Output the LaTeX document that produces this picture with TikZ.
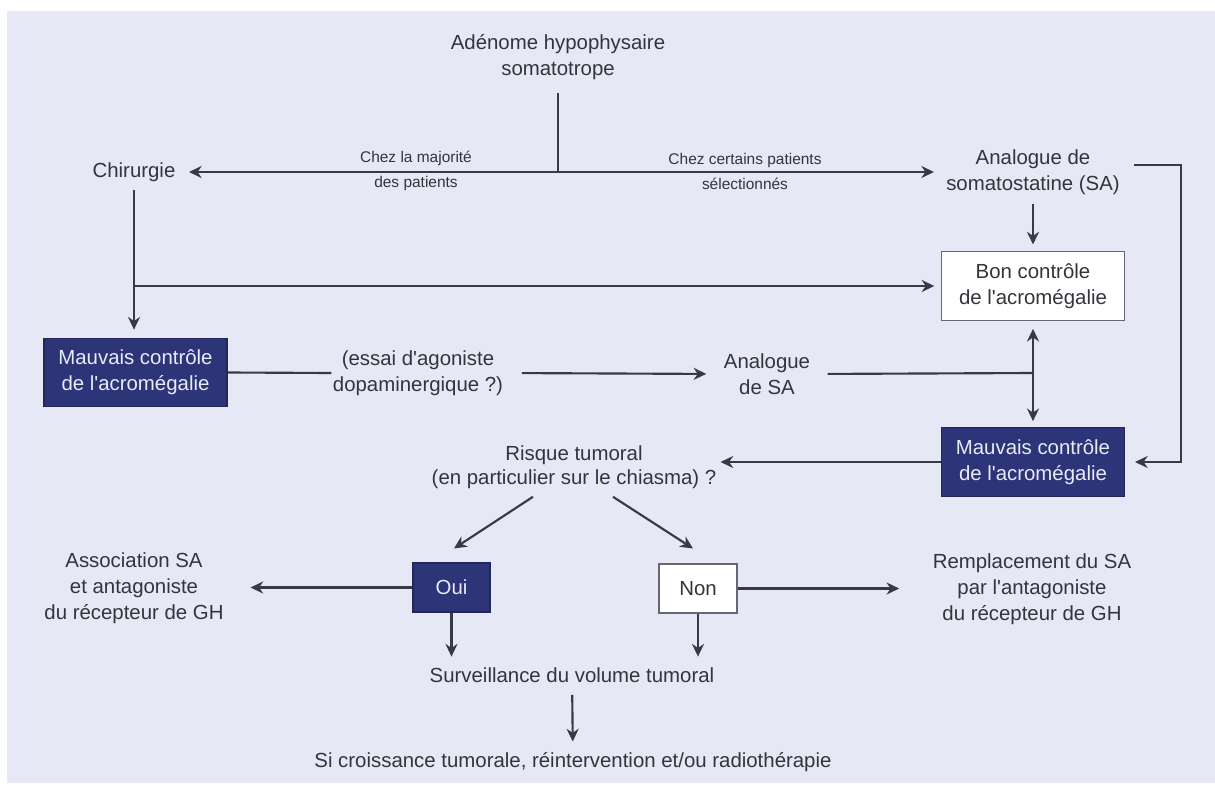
\documentclass[tikz,border=0pt]{standalone}
\usepackage{fontspec}
\setmainfont{Liberation Sans}
\usetikzlibrary{arrows.meta,calc}
\definecolor{panel}{RGB}{230,232,245}
\definecolor{navy}{RGB}{46,52,120}
\definecolor{ink}{RGB}{52,52,60}
\definecolor{lineclr}{RGB}{55,57,70}
\definecolor{boxtext}{RGB}{232,235,248}
\newcommand{\apos}{\textquotesingle}
\tikzset{
  txt/.style={align=center, inner sep=0pt, text=ink},
  smalltxt/.style={txt, font=\fontsize{11.6}{18.75}\selectfont},
  navybox/.style={draw=navy!75!black, fill=navy, text=boxtext, align=center, inner sep=0pt,
    minimum width=137.25pt, minimum height=51.5pt, line width=0.8pt},
  whitebox/.style={draw=ink!75, fill=white, text=ink, align=center, inner sep=0pt,
    minimum width=137.25pt, minimum height=51.5pt, line width=0.8pt},
  ln/.style={draw=lineclr, line width=1.6pt},
  arr/.style={ln, -{Stealth[length=9.5pt,width=9pt]}},
}
\begin{document}
\begin{tikzpicture}[x=0.75pt, y=-0.75pt, font=\fontsize{15.3}{19.5}\selectfont]
\useasboundingbox (0,0) rectangle (1215,786);
\fill[white] (0,0) rectangle (1215,786);
\fill[panel] (7,11) rectangle (1215,783);

% nodes
\node[txt] (adenome) at (558,57) {Adénome hypophysaire\\somatotrope};
\node[txt] (chir) at (134,172) {Chirurgie};
\node[txt] (asa) at (1033,172) {Analogue de\\somatostatine (SA)};
\node[smalltxt] (maj) at (416,171) {Chez la majorité\\des patients};
\node[smalltxt] (cert) at (745,171) {Chez certains patients\\sélectionnés};
\node[whitebox] (bon) at (1033,286) {Bon contrôle\\de l\apos acromégalie};
\node[navybox] (mauvL) at (135.5,372.5) {Mauvais contrôle\\de l\apos acromégalie};
\node[txt] (essai) at (418,373) {(essai d\apos agoniste\\dopaminergique ?)};
\node[txt] (ansa) at (767,374) {Analogue\\de SA};
\node[navybox] (mauvR) at (1033,462) {Mauvais contrôle\\de l\apos acromégalie};
\node[txt, font=\fontsize{15.3}{18}\selectfont] (risque) at (574,467) {Risque tumoral\\(en particulier sur le chiasma) ?};
\node[navybox, minimum width=57.75pt, minimum height=36.75pt] (oui) at (451.5,587.5) {Oui};
\node[whitebox, minimum width=58.5pt, minimum height=36.75pt] (non) at (698,588.5) {Non};
\node[txt] (assoc) at (134,588) {Association SA\\et antagoniste\\du récepteur de GH};
\node[txt] (rempl) at (1032,589) {Remplacement du SA\\par l\apos antagoniste\\du récepteur de GH};
\node[txt] (surv) at (572,675) {Surveillance du volume tumoral};
\node[txt] (si) at (573,762) {Si croissance tumorale, réintervention et/ou radiothérapie};

% junctions
\coordinate (J1) at (558,172);
\coordinate (R1) at (1181,165);
\coordinate (J2) at (134,286);
\coordinate (J3) at (1033,373);

% connectors
\draw[ln, shorten <=10pt] (adenome) -- (J1);
\draw[arr, shorten >=10pt] (J1) -- (chir.east);
\draw[arr, shorten >=9pt] (J1) -- (asa.west);
\draw[arr] ($(asa.east |- R1)+(14,0)$) -- (R1) -- (R1 |- mauvR.east) -- ($(mauvR.east)+(10,0)$);
\draw[arr, shorten <=7pt, shorten >=5pt] (asa) -- (bon);
\draw[arr, shorten <=6pt, shorten >=6pt] (chir) -- (chir |- mauvL.north);
\draw[arr, shorten >=5pt] (J2) -- (bon.west);
\draw[ln, shorten >=1pt] (mauvL.east) -- (essai.west);
\draw[arr, shorten <=14pt, shorten >=13pt] (essai.east) -- (ansa.west);
\draw[ln, shorten <=13pt] (ansa.east) -- (J3);
\draw[arr, shorten >=6pt] (J3) -- (bon.south);
\draw[arr, shorten >=4.5pt] (J3) -- (mauvR.north);
\draw[arr] (mauvR.west) -- ($(mauvR.west -| risque.east)+(4,0)$);
\draw[arr] ($(risque.south)+(-41,8)$) -- ($(oui.north)+(2.5,-14)$);
\draw[arr] ($(risque.south)+(39,8)$) -- ($(non.north)+(-5,-15)$);
\draw[arr, shorten >=20pt] (oui.west) -- (assoc.east |- oui.west);
\draw[arr, shorten >=25pt] (non.east) -- (rempl.west |- non.east);
\draw[arr, shorten >=8pt] (oui.south) -- (oui.south |- surv.north);
\draw[arr, shorten >=8pt] (non.south) -- (non.south |- surv.north);
\draw[arr, shorten <=9pt, shorten >=8pt] (surv) -- (si);
\end{tikzpicture}
\end{document}
